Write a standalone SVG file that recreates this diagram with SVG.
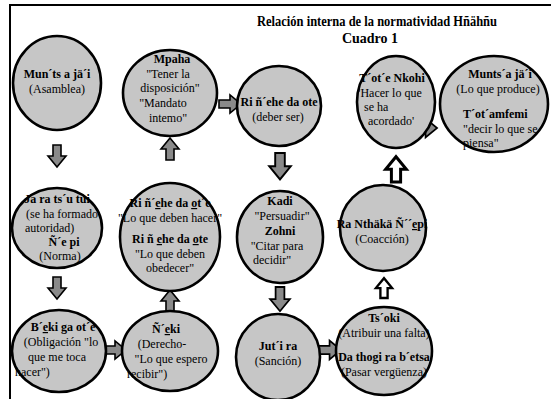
<svg xmlns="http://www.w3.org/2000/svg" width="551" height="399" viewBox="0 0 551 399" font-family="'Liberation Serif','Times New Roman',serif">
<style>
.n{fill:#c6c6c6;stroke:#000;stroke-width:2.6}
text{font-family:'Liberation Serif','Times New Roman',serif;font-size:12px;fill:#000}
.b{font-weight:bold}
.m{text-anchor:middle}
.t{font-weight:bold;font-size:14px;text-anchor:middle}
.a{fill:#8a8a8a;stroke:#000;stroke-width:1.6;stroke-linejoin:miter}
.w{fill:#fff;stroke:#000;stroke-width:2.6}
.u{text-decoration:underline}
</style>
<defs>
<path id="ar" d="M0,-4 H11 V-9 L22,0 L11,9 V4 H0 Z"/>
</defs>
<rect width="551" height="399" fill="#fff"/>
<path d="M10,399 V5 H551" fill="none" stroke="#000" stroke-width="2"/>
<text class="t" x="377" y="26" textLength="240" lengthAdjust="spacingAndGlyphs">Relación interna de la normatividad Hñähñu</text>
<text class="t" x="370" y="43">Cuadro 1</text>

<g id="connectors">
<use href="#ar" class="a" transform="translate(57,145) rotate(90)"/>
<use href="#ar" class="a" transform="translate(57,277) rotate(90)"/>
<use href="#ar" class="a" transform="translate(104,350)"/>
<use href="#ar" class="a" transform="translate(170,312) rotate(-90)"/>
<use href="#ar" class="a" transform="translate(170,160) rotate(-90)"/>
<use href="#ar" class="a" transform="translate(219,104)"/>
<use href="#ar" class="a" transform="translate(280,153) rotate(90) scale(1.2)"/>
<use href="#ar" class="a" transform="translate(280,287) rotate(90) scale(1.1)"/>
<use href="#ar" class="a" transform="translate(318,350) scale(1.05)"/>
<use href="#ar" class="w" transform="translate(384,298) rotate(-90) scale(0.9)"/>
<use href="#ar" class="w" transform="translate(396,182) rotate(-90) scale(1.15)"/>
<use href="#ar" class="a" transform="translate(414,128) scale(1.05)"/>
</g>

<g id="n1">
<ellipse class="n" cx="57" cy="83" rx="44" ry="47"/>
<text class="b m" x="57" y="78">Mun´ts  a jä´i</text>
<text class="m" x="57" y="93">(Asamblea)</text>
</g>

<g id="n2">
<ellipse class="n" cx="57" cy="228" rx="45" ry="40"/>
<text class="b m" x="57" y="203">Ja ra ts´u tui</text>
<text class="m" x="62" y="218">(se ha formado</text>
<text x="25" y="232">autoridad)</text>
<text class="b m" x="64" y="246">Ñ´e pi</text>
<text class="m" x="60" y="260">(Norma)</text>
</g>

<g id="n3">
<ellipse class="n" cx="59" cy="351" rx="47" ry="41"/>
<text class="b m" x="63" y="331">B´<tspan class="u">e</tspan>ki ga ot´e</text>
<text class="m" x="61" y="346">(Obligación "lo</text>
<text class="m" x="57" y="361">que me toca</text>
<text x="15" y="376">hacer")</text>
</g>

<g id="n4">
<ellipse class="n" cx="170" cy="351" rx="48" ry="40"/>
<text class="b m" x="166" y="333">Ñ´<tspan class="u">e</tspan>ki</text>
<text class="m" x="162" y="348">(Derecho-</text>
<text class="m" x="171" y="363">"Lo que espero</text>
<text x="127" y="378">recibir")</text>
</g>

<g id="n5">
<ellipse class="n" cx="170" cy="237" rx="50" ry="54"/>
<text class="b m" x="170" y="207">Ri ñ´<tspan class="u">e</tspan>he da <tspan class="u">o</tspan>t´e</text>
<text class="m" x="170" y="222">"Lo que deben hacer"</text>
<text class="b m" x="170" y="243">Ri ñ <tspan class="u">e</tspan>he da <tspan class="u">o</tspan>te</text>
<text class="m" x="170" y="258">"Lo que deben</text>
<text class="m" x="170" y="272">obedecer"</text>
</g>

<g id="n6">
<ellipse class="n" cx="170" cy="93" rx="47" ry="43"/>
<text class="b m" x="172" y="63">Mpaha</text>
<text class="m" x="168" y="78">"Tener la</text>
<text class="m" x="170" y="92">disposición"</text>
<text class="m" x="163" y="107">"Mandato</text>
<text class="m" x="168" y="122">intemo"</text>
</g>

<g id="n7">
<ellipse class="n" cx="279" cy="106" rx="42" ry="40"/>
<text class="b m" x="279" y="106">Ri ñ´ehe da ote</text>
<text class="m" x="278" y="121">(deber ser)</text>
</g>

<g id="n8">
<ellipse class="n" cx="280" cy="237" rx="43" ry="46"/>
<text class="b m" x="280" y="205">Kadi</text>
<text class="m" x="282" y="220">"Persuadir"</text>
<text class="b m" x="280" y="235">Zohni</text>
<text class="m" x="277" y="250">"Citar para</text>
<text x="253" y="264">decidir"</text>
</g>

<g id="n9">
<ellipse class="n" cx="278" cy="357" rx="42" ry="43"/>
<text class="b m" x="278" y="350">Jut´i ra</text>
<text class="m" x="278" y="365">(Sanción)</text>
</g>

<g id="n10">
<ellipse class="n" cx="384" cy="351" rx="48" ry="44"/>
<text class="b m" x="384" y="322">Ts´oki</text>
<text class="m" x="384" y="337">(Atribuir una falta)</text>
<text class="b m" x="384" y="361">Da thogi ra b´etsa</text>
<text class="m" x="384" y="376">(Pasar vergüenza)</text>
</g>

<g id="n11">
<ellipse class="n" cx="383" cy="228" rx="43" ry="43"/>
<text class="b m" x="382" y="228">Ra Nthäkä  Ñ´´<tspan class="u">e</tspan>pi</text>
<text class="m" x="382" y="243">(Coacción)</text>
</g>

<g id="n12">
<ellipse class="n" cx="396" cy="102" rx="39" ry="46"/>
<text class="b m" x="392" y="82">T´ot´e Nkohi</text>
<text class="m" x="390" y="97">'Hacer lo que</text>
<text x="364" y="111">se ha</text>
<text class="m" x="391" y="125">acordado'</text>
</g>

<g id="n13">
<ellipse class="n" cx="494" cy="104" rx="54" ry="48"/>
<text class="b m" x="500" y="78">Munts´a jä´i</text>
<text class="m" x="498" y="93">(Lo que produce)</text>
<text class="b" x="463" y="118">T´ot´amfemi</text>
<text x="463" y="133">"decir lo que se</text>
<text x="463" y="147">piensa"</text>
</g>
</svg>
